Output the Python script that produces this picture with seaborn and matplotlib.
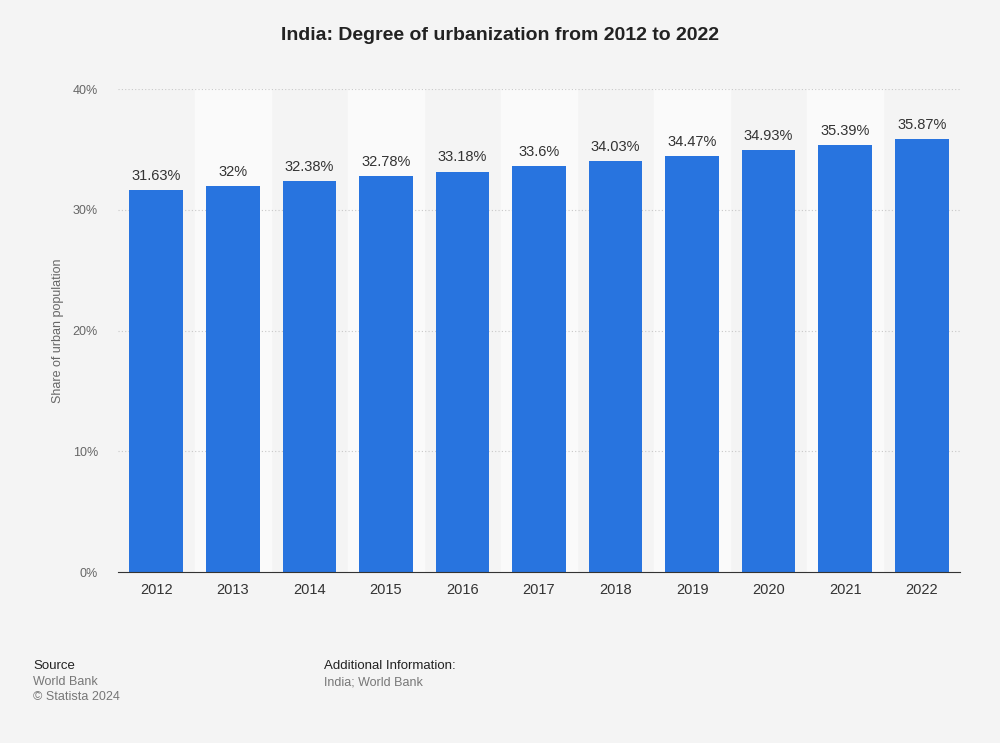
import matplotlib
matplotlib.use("Agg")
import matplotlib.pyplot as plt
import seaborn as sns
import pandas as pd

years = ["2012", "2013", "2014", "2015", "2016", "2017", "2018", "2019", "2020", "2021", "2022"]
shares = [31.63, 32.0, 32.38, 32.78, 33.18, 33.6, 34.03, 34.47, 34.93, 35.39, 35.87]
labels = ["31.63%", "32%", "32.38%", "32.78%", "33.18%", "33.6%", "34.03%", "34.47%", "34.93%", "35.39%", "35.87%"]
yticks = [0, 10, 20, 30, 40]

sns.set_style("white")
plt.rcParams["font.family"] = ["Liberation Sans", "DejaVu Sans"]

df = pd.DataFrame({"year": years, "share": shares})
fig = plt.figure(figsize=(10, 7.43), dpi=100, facecolor="#f4f4f4")
ax = fig.add_axes([0.118, 0.230, 0.842, 0.650])
ax.set_facecolor("#f4f4f4")

for i in range(1, len(years), 2):
    ax.axvspan(i - 0.5, i + 0.5, color="#fafafa", zorder=0)
for t in yticks[1:]:
    ax.axhline(t, color="#c8c8c8", linestyle=(0, (1, 2)), linewidth=0.8, zorder=1)

sns.barplot(data=df, x="year", y="share", color="#2874df", width=0.7,
            saturation=1, linewidth=0, ax=ax, zorder=2)
for i, (v, lab) in enumerate(zip(shares, labels)):
    ax.text(i, v + 0.6, lab, ha="center", va="bottom", fontsize=10.5, color="#333333")

ax.set_xlim(-0.5, len(years) - 0.5)
ax.set_ylim(0, 40)
ax.set_yticks(yticks)
ax.set_yticklabels([f"{t}%" for t in yticks], fontsize=9, color="#666666")
ax.tick_params(axis="x", labelsize=10.5, colors="#333333", length=0, pad=8)
ax.tick_params(axis="y", length=0, pad=14.5)
ax.set_xlabel("")
ax.set_ylabel("Share of urban population", fontsize=9, color="#666666", labelpad=6)
for s in ["top", "right", "left"]:
    ax.spines[s].set_visible(False)
ax.spines["bottom"].set_color("#333333")

fig.text(0.5, 0.952, "India: Degree of urbanization from 2012 to 2022", ha="center",
         va="center", fontsize=14, fontweight="bold", color="#222222")
fig.text(0.033, 0.104, "Source", fontsize=9.5, color="#222222", va="center")
fig.text(0.033, 0.082, "World Bank", fontsize=9, color="#777777", va="center")
fig.text(0.033, 0.062, "© Statista 2024", fontsize=9, color="#777777", va="center")
fig.text(0.324, 0.104, "Additional Information:", fontsize=9.5, color="#222222", va="center")
fig.text(0.324, 0.082, "India; World Bank", fontsize=9, color="#777777", va="center")

fig.savefig("out.png", dpi=100, facecolor=fig.get_facecolor())
